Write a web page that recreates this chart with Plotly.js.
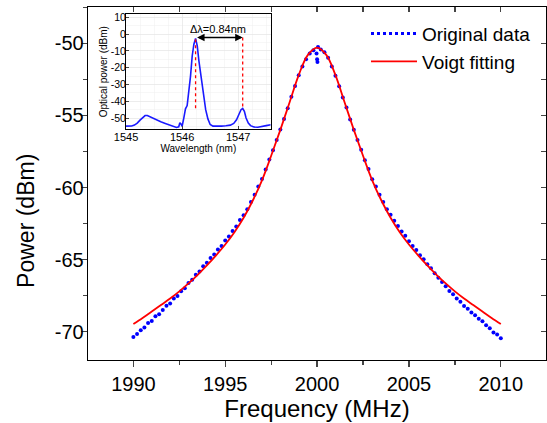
<!DOCTYPE html>
<html>
<head>
<meta charset="utf-8">
<script src="https://cdn.plot.ly/plotly-3.0.1.min.js"></script>
<style>html,body{margin:0;padding:0;background:#fff;}#chart{width:547px;height:423px;}</style>
</head>
<body>
<div id="chart"></div>
<script>
// ---- Main data: measured beat note (blue dots) ----
const freqData = [1990.0,1990.2,1990.4,1990.6,1990.8,1991.0,1991.2,1991.4,1991.6,1991.8,
1992.0,1992.2,1992.4,1992.6,1992.8,1993.0,1993.2,1993.4,1993.6,1993.8,
1994.0,1994.2,1994.4,1994.6,1994.8,1995.0,1995.2,1995.4,1995.6,1995.8,
1996.0,1996.2,1996.4,1996.6,1996.8,1997.0,1997.2,1997.4,1997.6,1997.8,
1998.0,1998.2,1998.4,1998.6,1998.8,1999.0,1999.2,1999.4,1999.6,1999.8,
1999.97,2000.0,2000.02,2000.05,
2000.2,2000.4,2000.6,2000.8,2001.0,2001.2,2001.4,2001.6,2001.8,
2002.0,2002.2,2002.4,2002.6,2002.8,2003.0,2003.2,2003.4,2003.6,2003.8,
2004.0,2004.2,2004.4,2004.6,2004.8,2005.0,2005.2,2005.4,2005.6,2005.8,
2006.0,2006.2,2006.4,2006.6,2006.8,2007.0,2007.2,2007.4,2007.6,2007.8,
2008.0,2008.2,2008.4,2008.6,2008.8,2009.0,2009.2,2009.4,2009.6,2009.8,2010.0];
const powerData = [-70.37,-70.15,-69.90,-69.70,-69.40,-69.25,-68.92,-68.78,-68.50,-68.20,
-68.05,-67.70,-67.52,-67.20,-66.98,-66.62,-66.40,-66.05,-65.82,-65.45,
-65.22,-64.88,-64.65,-64.30,-64.05,-63.68,-63.40,-63.02,-62.70,-62.25,
-61.92,-61.50,-61.00,-60.50,-59.92,-59.40,-58.75,-58.05,-57.42,-56.70,
-55.98,-55.25,-54.50,-53.70,-52.95,-52.22,-51.60,-51.10,-50.70,-50.48,
-50.70,-51.10,-51.30,-50.25,
-50.42,-50.62,-51.00,-51.60,-52.25,-52.98,-53.75,-54.45,-55.28,
-56.00,-56.70,-57.38,-58.10,-58.72,-59.42,-59.92,-60.50,-61.00,-61.50,
-61.88,-62.30,-62.66,-63.05,-63.35,-63.72,-64.05,-64.34,-64.70,-64.98,
-65.32,-65.60,-65.95,-66.25,-66.55,-66.85,-67.18,-67.40,-67.70,-67.92,
-68.22,-68.40,-68.66,-68.85,-69.10,-69.28,-69.55,-69.75,-70.05,-70.20,-70.45];

// ---- Voigt fit (red line) ----
const freqFit = [1990,1990.5,1991,1991.5,1992,1992.5,1993,1993.5,1994,1994.5,1995,1995.5,1996,1996.5,1997,1997.5,
1998,1998.5,1999,1999.5,2000,2000.5,2001,2001.5,2002,2002.5,2003,2003.5,2004,2004.5,2005,2005.5,2006,2006.5,
2007,2007.5,2008,2008.5,2009,2009.5,2010];
const powerFit = [-69.47,-69.05,-68.60,-68.15,-67.70,-67.20,-66.65,-66.05,-65.40,-64.70,-63.95,-63.10,-62.10,-60.90,
-59.50,-57.80,-56.00,-54.10,-52.20,-50.80,-50.30,-50.80,-52.20,-54.10,-56.00,-57.80,-59.50,-60.90,-62.10,-63.10,
-63.95,-64.70,-65.40,-66.05,-66.65,-67.20,-67.70,-68.15,-68.60,-69.05,-69.47];

// ---- Inset: optical spectrum ----
const wavelength = [1545.00,1545.05,1545.10,1545.15,1545.20,1545.25,1545.30,1545.34,1545.38,1545.42,1545.48,1545.55,
1545.62,1545.70,1545.78,1545.85,1545.90,1545.94,1545.96,1545.98,1546.00,1546.03,1546.06,1546.09,1546.12,1546.15,
1546.18,1546.21,1546.24,1546.27,1546.30,1546.33,1546.36,1546.39,1546.42,1546.46,1546.50,1546.55,1546.62,1546.70,
1546.78,1546.86,1546.92,1546.97,1547.01,1547.05,1547.08,1547.11,1547.14,1547.18,1547.22,1547.28,1547.35,1547.42,
1547.50,1547.58];
const opticalPower = [-54.8,-54.9,-54.7,-54.2,-53.0,-51.2,-49.4,-48.5,-48.5,-49.2,-50.2,-51.2,
-52.2,-53.2,-54.3,-55.2,-55.6,-55.2,-52.8,-53.5,-55.0,-50.0,-44.5,-42.5,-35.0,-25.0,
-13.0,-6.0,-2.5,-7.0,-16.0,-24.0,-31.0,-39.0,-45.0,-50.5,-53.8,-54.8,-55.0,-54.8,
-54.6,-54.2,-53.2,-51.0,-48.0,-45.0,-44.3,-46.0,-50.0,-53.0,-54.5,-55.3,-55.5,-55.2,
-54.5,-54.0];
const peakWavelengths = [1546.24, 1547.08];
const peakTops = [-3, -2];
const markerBottom = -45;
const spacingLabel = 'Δλ=0.84nm';

// tick labels
const mainYTicks = [-70,-65,-60,-55,-50];
const mainYTickText = ['-70','-65','-60','-55','-50'];
const insetYTicks = [-50,-40,-30,-20,-10,0,10];
const insetYTickText = ['-50','-40','-30','-20','-10','0','10'];
const insetXTicks = [1545,1546,1547];
const insetXTickText = ['1545','1546','1547'];

const FONT = 'Liberation Sans, Arial, sans-serif';

const traces = [
  {x: freqData, y: powerData, type: 'scatter', mode: 'markers', showlegend: false,
   marker: {color: '#0000ff', size: 4}, hoverinfo: 'skip'},
  {x: [null], y: [null], type: 'scatter', mode: 'lines', name: 'Original data',
   line: {color: '#0000ff', width: 3, dash: 'dot'}},
  {x: freqFit, y: powerFit, type: 'scatter', mode: 'lines', name: 'Voigt fitting',
   line: {color: '#ff0000', width: 1.8, shape: 'spline'}},
  {x: wavelength, y: opticalPower, type: 'scatter', mode: 'lines', xaxis: 'x2', yaxis: 'y2',
   showlegend: false, line: {color: '#1a1aff', width: 1.6}},
  {x: [null], y: [null], xaxis: 'x3', yaxis: 'y3', showlegend: false, type: 'scatter', mode: 'markers'}
];

// red dotted markers in inset
peakWavelengths.forEach((w, i) => {
  traces.push({x: [w, w], y: [peakTops[i], markerBottom], xaxis: 'x2', yaxis: 'y2', type: 'scatter',
    mode: 'lines', showlegend: false, line: {color: '#ff0000', width: 1.3, dash: 'dot'}});
});

const xr = [1987.53, 2012.46];
const yr = [-71.96, -47.48];

const layout = {
  width: 547, height: 423,
  margin: {l: 88, r: 1, t: 7, b: 63},
  paper_bgcolor: '#fff', plot_bgcolor: '#fff',
  font: {family: FONT, color: '#000'},
  showlegend: true,
  legend: {x: 0.607, y: 0.978, xanchor: 'left', yanchor: 'top', bgcolor: 'rgba(0,0,0,0)',
    font: {size: 19, family: FONT}, itemwidth: 46, tracegroupgap: 0},
  xaxis: {range: xr, domain: [0, 1], anchor: 'y', tick0: 1990, dtick: 5, ticks: 'outside', ticklen: 6, tickwidth: 1.3,
    minor: {dtick: 2.5, tick0: 1990, ticks: 'outside', ticklen: 4, tickwidth: 1.3, showgrid: false},
    showline: true, linewidth: 1.3, linecolor: '#000', mirror: true, showgrid: false, zeroline: false,
    tickfont: {size: 20}, title: {text: 'Frequency (MHz)', font: {size: 24}, standoff: 3}},
  yaxis: {range: yr, domain: [0, 1], anchor: 'x', tickvals: mainYTicks, ticktext: mainYTickText, ticks: 'outside', ticklen: 6, tickwidth: 1.3,
    minor: {dtick: 2.5, tick0: -50, ticks: 'outside', ticklen: 4, tickwidth: 1.3, showgrid: false},
    showline: true, linewidth: 1.3, linecolor: '#000', mirror: true, showgrid: false, zeroline: false,
    tickfont: {size: 20}, ticklabelstandoff: -7},
  xaxis3: {range: xr, overlaying: 'x', side: 'top', anchor: 'y', tick0: 1990, dtick: 2.5, ticks: 'inside', ticklen: 5,
    tickwidth: 1.3, showticklabels: false, showgrid: false, zeroline: false, showline: false},
  yaxis3: {range: yr, overlaying: 'y', side: 'right', anchor: 'x', tick0: -50, dtick: 2.5, ticks: 'inside', ticklen: 5,
    tickwidth: 1.3, showticklabels: false, showgrid: false, zeroline: false, showline: false},
  xaxis2: {domain: [0.083, 0.399], anchor: 'y2', range: [1545.0, 1547.58], tickvals: insetXTicks, ticktext: insetXTickText,
    ticks: 'inside', ticklen: 3, tickwidth: 1, tickfont: {size: 11}, ticklabelstandoff: -3,
    showline: true, linewidth: 1, linecolor: '#000', mirror: true,
    showgrid: true, gridcolor: '#e4e4e4', gridwidth: 0.6, zeroline: false,
    title: {text: 'Wavelength (nm)', font: {size: 10}, standoff: 0},
    minor: {dtick: 0.25, tick0: 1545, showgrid: true, gridcolor: '#efefef', gridwidth: 0.5}},
  yaxis2: {domain: [0.6535, 0.98], anchor: 'x2', range: [-56.7, 12], tickvals: insetYTicks, ticktext: insetYTickText,
    ticks: 'inside', ticklen: 3, tickwidth: 1, tickfont: {size: 10.5}, ticklabelstandoff: -3,
    showline: true, linewidth: 1, linecolor: '#000', mirror: true,
    showgrid: true, gridcolor: '#e4e4e4', gridwidth: 0.6, zeroline: false,
    title: {text: 'Optical power (dBm)', font: {size: 10}, standoff: 1},
    minor: {dtick: 5, tick0: 0, showgrid: true, gridcolor: '#efefef', gridwidth: 0.5}},
  annotations: [
    {text: 'Power (dBm)', xref: 'paper', yref: 'paper', x: -0.1354, y: 0.394, textangle: -90,
     showarrow: false, font: {size: 23}, xanchor: 'center', yanchor: 'middle'},
    {text: spacingLabel, xref: 'x2', yref: 'y2', x: (peakWavelengths[0] + peakWavelengths[1]) / 2 - 0.02, y: 3.0,
     showarrow: false, font: {size: 11}, xanchor: 'center', yanchor: 'middle'},
    {text: '', xref: 'x2', yref: 'y2', x: peakWavelengths[1], y: peakTops[1],
     axref: 'x2', ayref: 'y2', ax: peakWavelengths[0], ay: peakTops[1],
     showarrow: true, arrowhead: 2, startarrowhead: 2, arrowside: 'end+start', arrowsize: 1, arrowwidth: 1.5,
     arrowcolor: '#000', standoff: 0, startstandoff: 0}
  ]
};

Plotly.newPlot('chart', traces, layout, {staticPlot: true, displayModeBar: false});
</script>
</body>
</html>
